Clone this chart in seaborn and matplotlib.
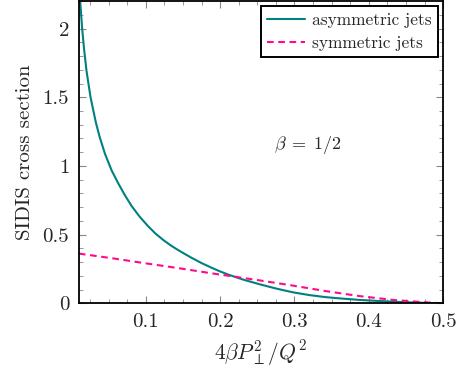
import matplotlib
matplotlib.use('Agg')
import matplotlib.pyplot as plt
import seaborn as sns
import numpy as np
from matplotlib.ticker import MultipleLocator

# valores
x_asym = [0.01, 0.0144, 0.017, 0.0203, 0.0257, 0.0329, 0.038, 0.045, 0.054, 0.063,
          0.072, 0.081, 0.092, 0.103, 0.113, 0.124, 0.134, 0.144, 0.161, 0.175,
          0.189, 0.2, 0.212, 0.232, 0.253, 0.275, 0.298, 0.32, 0.342, 0.365,
          0.387, 0.41, 0.432, 0.455, 0.477, 0.5]
y_asym = [2.33, 2.0, 1.85, 1.69, 1.5, 1.315, 1.21, 1.09, 0.968, 0.873,
          0.786, 0.708, 0.629, 0.562, 0.508, 0.459, 0.42, 0.386, 0.333, 0.293,
          0.258, 0.232, 0.207, 0.171, 0.139, 0.108, 0.08, 0.06, 0.045, 0.034,
          0.025, 0.018, 0.012, 0.007, 0.003, 0.0]

x_sym = [0.01, 0.055, 0.1, 0.144, 0.189, 0.212, 0.253, 0.298, 0.342, 0.387, 0.432, 0.477, 0.5]
y_sym = [0.362, 0.328, 0.291, 0.256, 0.218, 0.2, 0.167, 0.129, 0.089, 0.053, 0.025, 0.007, 0.0]

labels = ['asymmetric jets', 'symmetric jets']
x_ticks = [0.1, 0.2, 0.3, 0.4, 0.5]
y_ticks = [0, 0.5, 1, 1.5, 2]

sns.set_style('ticks')
plt.rcParams['font.family'] = ['cmr10', 'DejaVu Serif']
plt.rcParams['mathtext.fontset'] = 'cm'
plt.rcParams['axes.formatter.use_mathtext'] = True
plt.rcParams['axes.unicode_minus'] = False

fig = plt.figure(figsize=(4.64, 3.69), dpi=100)
ax = fig.add_axes([0.170, 0.178, 0.785, 0.819])

sns.lineplot(x=x_asym, y=y_asym, ax=ax, color='#008080', linewidth=1.5,
             label=labels[0], sort=False)
sns.lineplot(x=x_sym, y=y_sym, ax=ax, color='#ff0a8c', linewidth=1.5,
             label=labels[1], sort=False)
ax.lines[0].set_solid_joinstyle('round')
ax.lines[1].set_dashes((3.2, 2.2))

ax.set_xlim(0.01, 0.5)
ax.set_ylim(0, 2.2)
ax.set_xticks(x_ticks)
ax.set_xticklabels([str(t) for t in x_ticks])
ax.set_yticks(y_ticks)
ax.set_yticklabels(['0', '0.5', '1', '1.5', '2'])
ax.xaxis.set_minor_locator(MultipleLocator(0.025))
ax.yaxis.set_minor_locator(MultipleLocator(0.1))
ax.tick_params(which='both', direction='in', top=True, right=True,
               color='#888888', labelsize=15, pad=7)
ax.tick_params(which='major', length=5, width=0.8)
ax.tick_params(which='minor', length=3, width=0.6)
for s in ax.spines.values():
    s.set_linewidth(1.3)
    s.set_color('black')

ax.set_xlabel(r'$4\beta P_\perp^2/Q^2$', fontsize=15.5, labelpad=5)
ax.set_ylabel('SIDIS cross section', fontsize=15, labelpad=6)
ax.text(0.273, 1.15, r'$\beta\;=\;1/2$', fontsize=13, va='center', ha='left')

leg = ax.legend(loc='upper right', fontsize=12.5, frameon=True, fancybox=False,
                edgecolor='black', framealpha=1, borderaxespad=0.3,
                handlelength=2.2, handletextpad=0.4, borderpad=0.35,
                labelspacing=0.45)
leg.get_frame().set_linewidth(1.4)

fig.savefig('out.png', dpi=100)
